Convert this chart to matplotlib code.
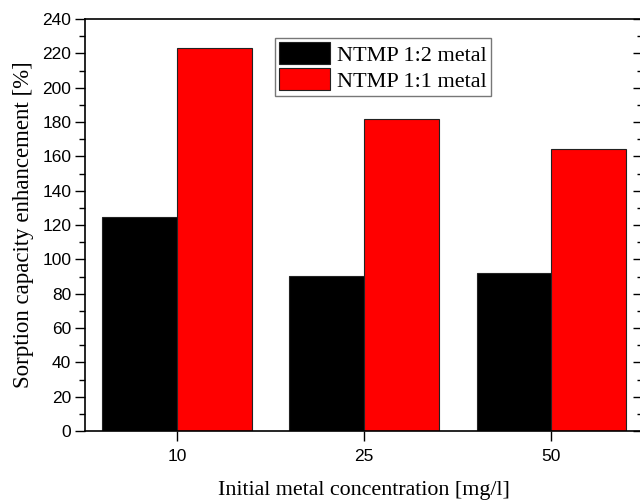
import numpy as np
import matplotlib
matplotlib.use('Agg')
import matplotlib.pyplot as plt
from matplotlib.ticker import MultipleLocator

concentrations = ['10', '25', '50']
ntmp_12 = [124.5, 90.5, 92.0]
ntmp_11 = [223.0, 182.0, 164.0]
series_labels = ['NTMP 1:2 metal', 'NTMP 1:1 metal']

fig = plt.figure(figsize=(6.4, 5.0), dpi=100)
ax = fig.add_axes([0.133, 0.138, 0.872, 0.824])

index = np.arange(len(concentrations))
bar_width = 0.4

ax.bar(index - bar_width / 2, ntmp_12, bar_width, color='black',
       edgecolor='#222222', linewidth=0.8, label=series_labels[0])
ax.bar(index + bar_width / 2, ntmp_11, bar_width, color='#ff0000',
       edgecolor='#222222', linewidth=0.8, label=series_labels[1])

ax.set_xlim(-0.49, 2.49)
ax.set_ylim(0, 240)
ax.set_xticks(index)
ax.set_xticklabels(concentrations)
ax.yaxis.set_major_locator(MultipleLocator(20))
ax.yaxis.set_minor_locator(MultipleLocator(10))

for lab in ax.get_xticklabels() + ax.get_yticklabels():
    lab.set_family('Liberation Sans')
    lab.set_fontsize(12.5)

ax.tick_params(axis='y', which='major', direction='out', length=7, width=1,
               right=True, left=True, pad=3)
ax.tick_params(axis='y', which='minor', direction='out', length=4, width=1,
               right=True, left=True)
ax.tick_params(axis='x', which='major', direction='out', length=7, width=1, pad=6)
# right-hand ticks point inwards
for t in ax.yaxis.get_major_ticks() + ax.yaxis.get_minor_ticks():
    t.tick2line.set_marker(matplotlib.lines.TICKLEFT)

for s in ax.spines.values():
    s.set_linewidth(1.2)

ax.set_xlabel('Initial metal concentration [mg/l]', family='Liberation Serif',
              fontsize=15.8, labelpad=12)
ax.set_ylabel('Sorption capacity enhancement [%]', family='Liberation Serif',
              fontsize=16.5, labelpad=6)

leg = ax.legend(loc='upper left', bbox_to_anchor=(0.34, 0.954), borderaxespad=0,
                fancybox=False, framealpha=1, edgecolor='#777777',
                prop={'family': 'Liberation Serif', 'size': 16},
                handlelength=2.3, handleheight=1.1, handletextpad=0.3,
                borderpad=0.2, labelspacing=0.12)
leg.get_frame().set_linewidth(1.0)

fig.savefig('out.png', dpi=100)
